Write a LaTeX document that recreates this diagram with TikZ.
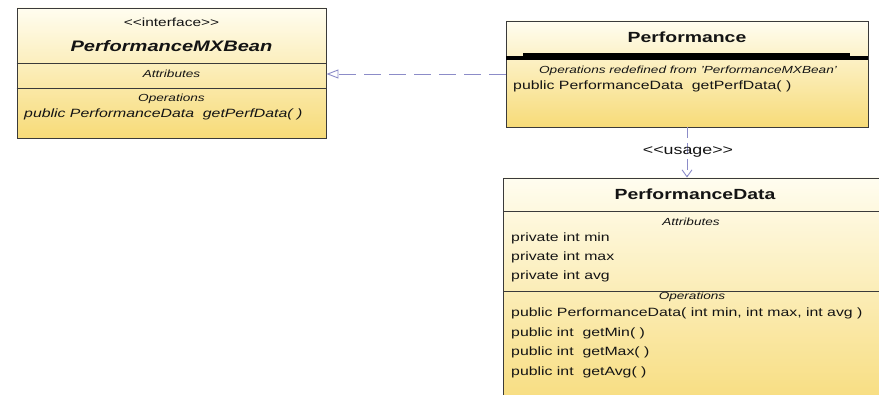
\documentclass[tikz,border=0pt]{standalone}
\usepackage{fontspec}
\setmainfont[FakeStretch=1.32]{Liberation Sans}
\usetikzlibrary{arrows.meta}

\definecolor{boxtop}{HTML}{FFFDF0}
\definecolor{boxbot}{HTML}{F7DB78}
\definecolor{edge}{HTML}{3A3A3A}
\definecolor{link}{HTML}{8C8CC8}
\definecolor{ink}{HTML}{141414}

\begin{document}
\begin{tikzpicture}[x=1pt,y=-1pt,
  classbox/.style={rectangle, draw=edge, line width=0.9pt, top color=boxtop,
    bottom color=boxbot, inner sep=0pt},
  divider/.style={draw=edge, line width=0.8pt},
  lbl/.style={inner sep=0pt, anchor=base, text=ink},
  lblw/.style={lbl, anchor=base west},
  titlefont/.style={font=\fontsize{14.7}{16}\selectfont\bfseries},
  bodyfont/.style={font=\fontsize{12}{14}\selectfont},
  smallit/.style={font=\fontsize{10.3}{12}\selectfont\itshape},
  dep/.style={draw=link, line width=0.9pt, dash pattern=on 17pt off 8pt}
]
\useasboundingbox (0,0) rectangle (879,395);
\clip (0,0) rectangle (879,395);

% ---- class boxes ----
\node[classbox, minimum width=309, minimum height=130] (mx) at (171.5,73) {};
\node[classbox, minimum width=362, minimum height=106] (perf) at (687,74) {};
\node[classbox, minimum width=377, minimum height=240] (pdata) at (692,298) {};

% compartment separators
\draw[divider] (mx.west |- 0,63) -- (mx.east |- 0,63);
\draw[divider] (mx.west |- 0,88) -- (mx.east |- 0,88);
\draw[divider] (pdata.west |- 0,211) -- (pdata.east |- 0,211);
\draw[divider] (pdata.west |- 0,291) -- (pdata.east |- 0,291);

% heavy bar under the Performance header
\fill[black] (perf.west |- 0,56) rectangle (perf.east |- 0,60);
\fill[black] (523,53) rectangle (850,60);

% ---- PerformanceMXBean ----
\node[lbl, font=\fontsize{11.7}{13}\selectfont] (mxst) at (171.5,27) {<{}<interface>{}>};
\node[lbl, font=\fontsize{15.2}{17}\selectfont\bfseries\itshape] (mxname) at (171.5,52) {PerformanceMXBean};
\node[lbl, smallit] (mxattr) at (171.5,78) {Attributes};
\node[lbl, smallit] (mxops) at (171.5,101.5) {Operations};
\node[lblw, font=\fontsize{12}{14}\selectfont\itshape] (mxop1) at (24,118) {public PerformanceData\ \ getPerfData(\ )};

% ---- Performance ----
\node[lbl, titlefont] (perfname) at (687,43) {Performance};
\node[lbl, smallit] (perfops) at (688,74) {Operations redefined from \char39PerformanceMXBean\char39};
\node[lblw, bodyfont] (perfop1) at (513,90) {public PerformanceData\ \ getPerfData(\ )};

% ---- PerformanceData ----
\node[lbl, titlefont] (pdname) at (695,200) {PerformanceData};
\node[lbl, smallit] (pdattr) at (691,226) {Attributes};
\node[lblw, bodyfont] (pda1) at (511,242) {private int min};
\node[lblw, bodyfont] (pda2) at (511,261) {private int max};
\node[lblw, bodyfont] (pda3) at (511,280) {private int avg};
\node[lbl, smallit] (pdops) at (692,300) {Operations};
\node[lblw, bodyfont] (pdo1) at (511,317) {public PerformanceData( int min, int max, int avg )};
\node[lblw, bodyfont] (pdo2) at (511,336.5) {public int\ \ getMin(\ )};
\node[lblw, bodyfont] (pdo3) at (511,356) {public int\ \ getMax(\ )};
\node[lblw, bodyfont] (pdo4) at (511,375.5) {public int\ \ getAvg(\ )};

% ---- relations ----
% realization: Performance implements PerformanceMXBean
\draw[dep, -{Triangle[open, length=12pt, width=9pt, fill=white]}]
  (perf.west) -- (mx.east |- perf.west);

% usage dependency: Performance uses PerformanceData
\draw[dep, dash pattern=on 11pt off 5pt, -{Straight Barb[length=7pt, width=10pt]}]
  (perf.south) -- (pdata.north -| perf.south);
\node[lbl, font=\fontsize{13.5}{15}\selectfont] (usage) at (688,155) {<{}<usage>{}>};

\end{tikzpicture}
\end{document}
